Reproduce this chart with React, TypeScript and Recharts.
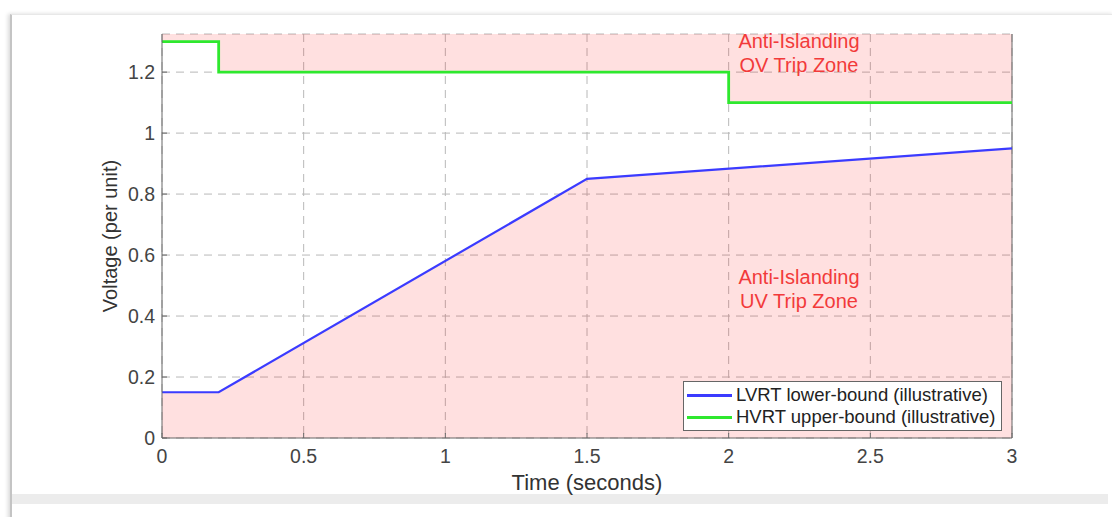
import { ComposedChart, Line, Area, XAxis, YAxis, CartesianGrid, ReferenceLine } from 'recharts'

// time points (s) and the two ride-through bounds (per unit)
const times = [0, 0.2, 1.5, 2, 3]
const lvrt: (number | null)[] = [0.15, 0.15, 0.85, null, 0.95]
const hvrt: (number | null)[] = [1.3, 1.2, null, 1.1, 1.1]

const xTicks = [0, 0.5, 1, 1.5, 2, 2.5, 3]
const yTicks = [0, 0.2, 0.4, 0.6, 0.8, 1, 1.2]
const yTop = 1.325

const data = times.map((t, i) => ({ t, lvrt: lvrt[i], hvrt: hvrt[i] }))

const FONT = '"Liberation Sans", Arial, sans-serif'
const PINK = '#ff0000'
const BLUE = '#3b3bff'
const GREEN = '#2ee82e'

function LegendBox() {
  const row = (color: string, label: string) => (
    <div style={{ display: 'flex', alignItems: 'center', height: 22 }}>
      <div style={{ width: 45, height: 3, background: color, marginRight: 4 }} />
      <span>{label}</span>
    </div>
  )
  return (
    <div
      style={{
        position: 'absolute',
        left: 683,
        top: 381,
        background: '#fff',
        border: '1px solid #666',
        padding: '2px 6px 2px 3px',
        fontFamily: FONT,
        fontSize: 18.5,
        color: '#222',
        lineHeight: '22px',
        whiteSpace: 'nowrap',
      }}
    >
      {row(BLUE, 'LVRT lower-bound (illustrative)')}
      {row(GREEN, 'HVRT upper-bound (illustrative)')}
    </div>
  )
}

const zoneText: React.CSSProperties = {
  position: 'absolute',
  width: 200,
  textAlign: 'center',
  fontFamily: FONT,
  fontSize: 20,
  lineHeight: '24px',
  color: '#f23a3a',
}

export default function App() {
  return (
    <div style={{ position: 'absolute', left: 0, top: 0, width: 1112, height: 517, background: '#fff', overflow: 'hidden' }}>
      <div
        style={{
          position: 'absolute',
          left: 10,
          top: 14,
          width: 1102,
          height: 510,
          borderTop: '1px solid #e8e8e8',
          borderLeft: '2px solid #c4c4c4',
          boxShadow: '-2px 0 4px rgba(0,0,0,0.15)',
        }}
      />
      <div style={{ position: 'absolute', left: 12, top: 494, width: 1096, height: 10, background: '#ececec' }} />
      <ComposedChart
        width={1112}
        height={517}
        data={data}
        margin={{ top: 34, right: 100, bottom: 19, left: 102 }}
        style={{ position: 'absolute', left: 0, top: 0, fontFamily: FONT }}
      >
        <CartesianGrid stroke="#b8b8b8" strokeDasharray="8 6" vertical horizontal />
        <XAxis
          dataKey="t"
          type="number"
          domain={[0, 3]}
          ticks={xTicks}
          height={60}
          stroke="#666"
          tick={{ fill: '#444', fontSize: 19.5 }}
          tickSize={-5}
          tickMargin={16}
          label={{ value: 'Time (seconds)', position: 'insideBottom', offset: 8, fill: '#333', fontSize: 22 }}
        />
        <YAxis
          type="number"
          domain={[0, yTop]}
          ticks={yTicks}
          width={60}
          stroke="#666"
          tick={{ fill: '#444', fontSize: 19.5 }}
          tickSize={-5}
          tickMargin={12}
          label={{ value: 'Voltage (per unit)', angle: -90, position: 'insideLeft', offset: 0, dx: 8, fill: '#333', fontSize: 20, style: { textAnchor: 'middle' } }}
        />
        <ReferenceLine x={3} stroke="#666" />
        <Area
          dataKey="lvrt"
          type="linear"
          connectNulls
          stroke="none"
          fill={PINK}
          fillOpacity={0.12}
          isAnimationActive={false}
          legendType="none"
        />
        <Area
          dataKey={(d: { hvrt: number | null }) => (d.hvrt == null ? null : [d.hvrt, yTop])}
          type="stepAfter"
          connectNulls
          stroke="none"
          fill={PINK}
          fillOpacity={0.12}
          isAnimationActive={false}
          legendType="none"
        />
        <Line
          dataKey="lvrt"
          type="linear"
          connectNulls
          stroke={BLUE}
          strokeWidth={2.2}
          dot={false}
          isAnimationActive={false}
        />
        <Line
          dataKey="hvrt"
          type="stepAfter"
          connectNulls
          stroke={GREEN}
          strokeWidth={2.8}
          dot={false}
          isAnimationActive={false}
        />
      </ComposedChart>
      <LegendBox />
      <div style={{ ...zoneText, left: 699, top: 29 }}>
        Anti-Islanding
        <br />
        OV Trip Zone
      </div>
      <div style={{ ...zoneText, left: 699, top: 265 }}>
        Anti-Islanding
        <br />
        UV Trip Zone
      </div>
    </div>
  )
}
